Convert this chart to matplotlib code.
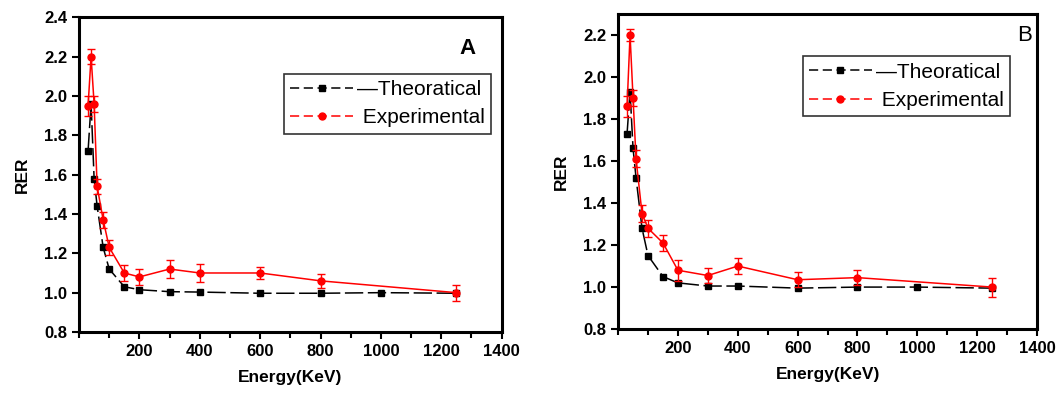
import numpy as np
import matplotlib
matplotlib.use("Agg")
import matplotlib.pyplot as plt
from matplotlib.ticker import MultipleLocator, FormatStrFormatter
from matplotlib.lines import Line2D

plt.rcParams['font.family'] = ['Liberation Sans', 'DejaVu Sans']

# energies (keV)
energy = [30, 40, 50, 60, 80, 100, 150, 200, 300, 400, 600, 800, 1000, 1250]
energy_exp = [30, 40, 50, 60, 80, 100, 150, 200, 300, 400, 600, 800, 1250]

# panel A
theo_a = [1.72, 1.96, 1.58, 1.44, 1.23, 1.12, 1.03, 1.015, 1.005, 1.003, 0.997, 0.997, 1.0, 0.997]
exp_a = [1.95, 2.20, 1.96, 1.54, 1.37, 1.23, 1.10, 1.08, 1.12, 1.10, 1.10, 1.06, 1.0]
err_a = [0.05, 0.04, 0.04, 0.04, 0.04, 0.04, 0.04, 0.04, 0.045, 0.045, 0.03, 0.035, 0.04]

# panel B
theo_b = [1.73, 1.93, 1.66, 1.52, 1.28, 1.15, 1.05, 1.02, 1.005, 1.005, 0.995, 1.0, 1.0, 0.995]
exp_b = [1.86, 2.20, 1.90, 1.61, 1.35, 1.28, 1.21, 1.08, 1.055, 1.10, 1.035, 1.045, 1.0]
err_b = [0.05, 0.03, 0.04, 0.04, 0.04, 0.04, 0.04, 0.05, 0.035, 0.04, 0.035, 0.035, 0.045]

fig = plt.figure(figsize=(10.62, 3.97), dpi=100)
ax_a = fig.add_axes([0.0744, 0.1637, 0.398, 0.793])
ax_b = fig.add_axes([0.582, 0.171, 0.3945, 0.794])


def draw(ax, theo, exp, err, ylim, letter, letter_bold, letter_pos, leg_anchor):
    ax.plot(energy, theo, color='black', lw=1.1, ls=(0, (12, 3)),
            marker='s', ms=5)
    ax.errorbar(energy_exp, exp, yerr=err, color='red', lw=1.1,
                marker='o', ms=5, capsize=3, elinewidth=1.0)
    ax.set_xlim(0, 1400)
    ax.set_ylim(*ylim)
    ax.xaxis.set_minor_locator(MultipleLocator(100))
    ax.yaxis.set_major_locator(MultipleLocator(0.2))
    ax.set_xticks([200, 400, 600, 800, 1000, 1200, 1400])
    ax.yaxis.set_major_formatter(FormatStrFormatter('%.1f'))
    ax.tick_params(which='major', direction='out', length=5, width=1.5,
                   labelsize=12)
    ax.tick_params(which='minor', direction='out', length=4, width=1.5)
    for lab in ax.get_xticklabels() + ax.get_yticklabels():
        lab.set_fontweight('bold')
    for s in ax.spines.values():
        s.set_linewidth(2.2)
    ax.set_xlabel('Energy(KeV)', fontsize=12.5, fontweight='bold', labelpad=8)
    ax.set_ylabel('RER', fontsize=12.5, fontweight='bold', labelpad=10)

    h_theo = Line2D([], [], color='black', lw=1.1, ls=(0, (6, 3)),
                    marker='s', ms=5)
    h_exp = Line2D([], [], color='red', lw=1.1, ls=(0, (6, 3)),
                   marker='o', ms=5)
    leg = ax.legend([h_theo, h_exp], ['\u2014Theoratical', ' Experimental'],
                    loc='upper right', bbox_to_anchor=leg_anchor, fontsize=15,
                    frameon=True, fancybox=False, edgecolor='black',
                    handlelength=3.0, handletextpad=0.2, borderpad=0.3,
                    labelspacing=0.45, borderaxespad=0)
    leg.get_frame().set_linewidth(1.2)
    ax.text(letter_pos[0], letter_pos[1], letter, transform=ax.transAxes,
            ha='center', va='center', fontsize=16,
            fontweight='bold' if letter_bold else 'normal')


draw(ax_a, theo_a, exp_a, err_a, (0.8, 2.4), 'A', True, (0.92, 0.9),
     (0.975, 0.82))
draw(ax_b, theo_b, exp_b, err_b, (0.8, 2.3), 'B', False, (0.97, 0.933),
     (0.935, 0.865))

fig.savefig('out.png', dpi=100)
